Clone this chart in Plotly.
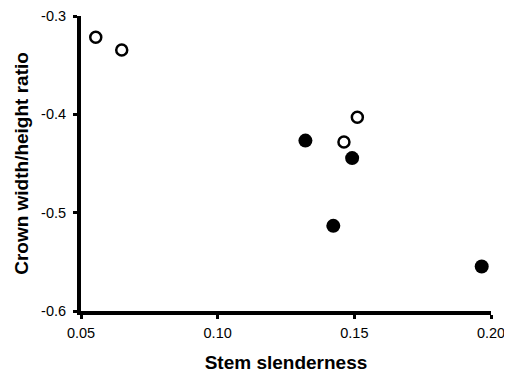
import plotly.graph_objects as go

open_x = [0.0554, 0.0649, 0.1511, 0.1462]
open_y = [-0.3217, -0.3346, -0.4029, -0.4281]
filled_x = [0.1321, 0.1492, 0.1423, 0.1966]
filled_y = [-0.4267, -0.4445, -0.5134, -0.5547]
x_ticks = [0.05, 0.10, 0.15, 0.20]
x_tick_labels = ["0.05", "0.10", "0.15", "0.20"]
y_ticks = [-0.6, -0.5, -0.4, -0.3]
y_tick_labels = ["-0.6", "-0.5", "-0.4", "-0.3"]

fig = go.Figure()
fig.add_trace(go.Scatter(x=open_x, y=open_y, mode="markers",
                         marker=dict(size=11, color="white", line=dict(color="black", width=2.5)),
                         showlegend=False, cliponaxis=False))
fig.add_trace(go.Scatter(x=filled_x, y=filled_y, mode="markers",
                         marker=dict(size=14, color="black", line=dict(color="black", width=0)),
                         showlegend=False, cliponaxis=False))

font = "Liberation Sans, Arial, sans-serif"
# page body has an 8px margin; figure sized so the page needs no scrollbar
fig.update_layout(
    width=496, height=365,
    margin=dict(l=73, r=13, t=8, b=62),
    paper_bgcolor="white", plot_bgcolor="white",
    font=dict(family=font, size=14.5, color="black"),
    xaxis=dict(range=[0.05, 0.20], tickvals=x_ticks, ticktext=x_tick_labels,
               showgrid=False, zeroline=False, showline=True, linecolor="black", linewidth=4,
               ticks="outside", ticklen=4, tickwidth=3, tickcolor="black",
               ticklabelstandoff=2, ticklabeloverflow="allow", automargin=False,
               title=dict(text="<b>Stem slenderness</b>", font=dict(size=19), standoff=25)),
    yaxis=dict(range=[-0.6, -0.3], tickvals=y_ticks, ticktext=y_tick_labels,
               showgrid=False, zeroline=False, showline=True, linecolor="black", linewidth=4,
               ticks="outside", ticklen=4, tickwidth=3, tickcolor="black",
               ticklabelstandoff=4, ticklabeloverflow="allow", automargin=False,
               title=dict(text="<b>Crown width/height ratio</b>", font=dict(size=19), standoff=8)),
)
fig.write_html("out.html")
